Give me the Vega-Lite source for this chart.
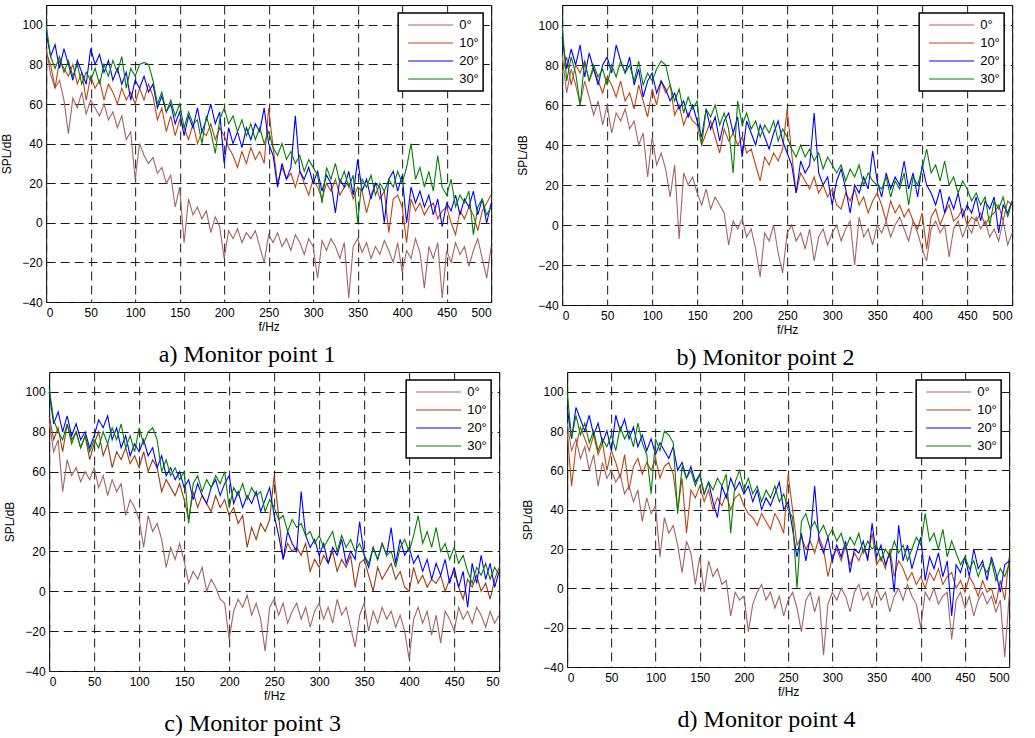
{
"$schema":"https://vega.github.io/schema/vega-lite/v6.json",
"background":"white",
"padding":{"left":0,"top":4,"right":0,"bottom":0},
"datasets":{
"a0":[{"f":0,"v":88},{"f":5,"v":75},{"f":10,"v":68},{"f":15,"v":72},{"f":20,"v":62},{"f":25,"v":45},{"f":30,"v":63},{"f":35,"v":58},{"f":40,"v":66},{"f":45,"v":55},{"f":50,"v":62},{"f":55,"v":58},{"f":60,"v":54},{"f":65,"v":60},{"f":70,"v":52},{"f":75,"v":56},{"f":80,"v":48},{"f":85,"v":54},{"f":90,"v":42},{"f":95,"v":46},{"f":100,"v":22},{"f":105,"v":40},{"f":110,"v":34},{"f":115,"v":30},{"f":120,"v":33},{"f":125,"v":25},{"f":130,"v":28},{"f":135,"v":20},{"f":140,"v":24},{"f":145,"v":8},{"f":150,"v":18},{"f":155,"v":-10},{"f":160,"v":12},{"f":165,"v":4},{"f":170,"v":8},{"f":175,"v":2},{"f":180,"v":6},{"f":185,"v":-5},{"f":190,"v":3},{"f":195,"v":-2},{"f":200,"v":-18},{"f":205,"v":-4},{"f":210,"v":-8},{"f":215,"v":-3},{"f":220,"v":-10},{"f":225,"v":-5},{"f":230,"v":-8},{"f":235,"v":-4},{"f":240,"v":-12},{"f":245,"v":-20},{"f":250,"v":-6},{"f":255,"v":-10},{"f":260,"v":-5},{"f":265,"v":-12},{"f":270,"v":-8},{"f":275,"v":-14},{"f":280,"v":-6},{"f":285,"v":-10},{"f":290,"v":-16},{"f":295,"v":-8},{"f":300,"v":-12},{"f":305,"v":-28},{"f":310,"v":-9},{"f":315,"v":-14},{"f":320,"v":-8},{"f":325,"v":-12},{"f":330,"v":-18},{"f":335,"v":-10},{"f":340,"v":-38},{"f":345,"v":-12},{"f":350,"v":-8},{"f":355,"v":-15},{"f":360,"v":-10},{"f":365,"v":-18},{"f":370,"v":-12},{"f":375,"v":-16},{"f":380,"v":-9},{"f":385,"v":-14},{"f":390,"v":-20},{"f":395,"v":-10},{"f":400,"v":-25},{"f":405,"v":-14},{"f":410,"v":-18},{"f":415,"v":-8},{"f":420,"v":-15},{"f":425,"v":-33},{"f":430,"v":-12},{"f":435,"v":-18},{"f":440,"v":-10},{"f":445,"v":-38},{"f":450,"v":-14},{"f":455,"v":-20},{"f":460,"v":-10},{"f":465,"v":-16},{"f":470,"v":-12},{"f":475,"v":-22},{"f":480,"v":-14},{"f":485,"v":-8},{"f":490,"v":-18},{"f":495,"v":-28},{"f":500,"v":-12}],
"a10":[{"f":0,"v":86},{"f":5,"v":80},{"f":10,"v":68},{"f":15,"v":82},{"f":20,"v":78},{"f":25,"v":74},{"f":30,"v":80},{"f":35,"v":70},{"f":40,"v":76},{"f":45,"v":62},{"f":50,"v":74},{"f":55,"v":68},{"f":60,"v":72},{"f":65,"v":62},{"f":70,"v":70},{"f":75,"v":66},{"f":80,"v":60},{"f":85,"v":68},{"f":90,"v":62},{"f":95,"v":66},{"f":100,"v":60},{"f":105,"v":68},{"f":110,"v":62},{"f":115,"v":70},{"f":120,"v":64},{"f":125,"v":52},{"f":130,"v":58},{"f":135,"v":46},{"f":140,"v":54},{"f":145,"v":44},{"f":150,"v":52},{"f":155,"v":48},{"f":160,"v":42},{"f":165,"v":50},{"f":170,"v":40},{"f":175,"v":46},{"f":180,"v":44},{"f":185,"v":50},{"f":190,"v":42},{"f":195,"v":48},{"f":200,"v":44},{"f":205,"v":38},{"f":210,"v":34},{"f":215,"v":28},{"f":220,"v":36},{"f":225,"v":30},{"f":230,"v":38},{"f":235,"v":32},{"f":240,"v":36},{"f":245,"v":30},{"f":250,"v":58},{"f":255,"v":38},{"f":260,"v":20},{"f":265,"v":28},{"f":270,"v":22},{"f":275,"v":25},{"f":280,"v":18},{"f":285,"v":26},{"f":290,"v":20},{"f":295,"v":14},{"f":300,"v":22},{"f":305,"v":18},{"f":310,"v":12},{"f":315,"v":20},{"f":320,"v":16},{"f":325,"v":22},{"f":330,"v":14},{"f":335,"v":18},{"f":340,"v":20},{"f":345,"v":12},{"f":350,"v":18},{"f":355,"v":16},{"f":360,"v":5},{"f":365,"v":14},{"f":370,"v":20},{"f":375,"v":12},{"f":380,"v":16},{"f":385,"v":-5},{"f":390,"v":12},{"f":395,"v":14},{"f":400,"v":8},{"f":405,"v":-10},{"f":410,"v":12},{"f":415,"v":6},{"f":420,"v":10},{"f":425,"v":4},{"f":430,"v":8},{"f":435,"v":10},{"f":440,"v":2},{"f":445,"v":6},{"f":450,"v":8},{"f":455,"v":0},{"f":460,"v":-6},{"f":465,"v":6},{"f":470,"v":2},{"f":475,"v":8},{"f":480,"v":4},{"f":485,"v":-4},{"f":490,"v":6},{"f":495,"v":10},{"f":500,"v":14}],
"a20":[{"f":0,"v":96},{"f":5,"v":84},{"f":10,"v":90},{"f":15,"v":78},{"f":20,"v":88},{"f":25,"v":80},{"f":30,"v":72},{"f":35,"v":82},{"f":40,"v":76},{"f":45,"v":70},{"f":50,"v":88},{"f":55,"v":80},{"f":60,"v":85},{"f":65,"v":76},{"f":70,"v":82},{"f":75,"v":72},{"f":80,"v":78},{"f":85,"v":70},{"f":90,"v":76},{"f":95,"v":62},{"f":100,"v":72},{"f":105,"v":68},{"f":110,"v":74},{"f":115,"v":66},{"f":120,"v":70},{"f":125,"v":58},{"f":130,"v":64},{"f":135,"v":56},{"f":140,"v":60},{"f":145,"v":50},{"f":150,"v":56},{"f":155,"v":44},{"f":160,"v":54},{"f":165,"v":48},{"f":170,"v":58},{"f":175,"v":46},{"f":180,"v":52},{"f":185,"v":60},{"f":190,"v":50},{"f":195,"v":56},{"f":200,"v":30},{"f":205,"v":48},{"f":210,"v":40},{"f":215,"v":46},{"f":220,"v":38},{"f":225,"v":48},{"f":230,"v":42},{"f":235,"v":50},{"f":240,"v":46},{"f":245,"v":58},{"f":250,"v":40},{"f":255,"v":34},{"f":260,"v":18},{"f":265,"v":30},{"f":270,"v":22},{"f":275,"v":28},{"f":280,"v":54},{"f":285,"v":26},{"f":290,"v":22},{"f":295,"v":28},{"f":300,"v":20},{"f":305,"v":26},{"f":310,"v":16},{"f":315,"v":24},{"f":320,"v":20},{"f":325,"v":5},{"f":330,"v":22},{"f":335,"v":18},{"f":340,"v":26},{"f":345,"v":14},{"f":350,"v":32},{"f":355,"v":16},{"f":360,"v":22},{"f":365,"v":12},{"f":370,"v":20},{"f":375,"v":18},{"f":380,"v":0},{"f":385,"v":22},{"f":390,"v":26},{"f":395,"v":16},{"f":400,"v":24},{"f":405,"v":0},{"f":410,"v":18},{"f":415,"v":10},{"f":420,"v":16},{"f":425,"v":8},{"f":430,"v":14},{"f":435,"v":4},{"f":440,"v":12},{"f":445,"v":-2},{"f":450,"v":10},{"f":455,"v":6},{"f":460,"v":14},{"f":465,"v":4},{"f":470,"v":12},{"f":475,"v":8},{"f":480,"v":16},{"f":485,"v":4},{"f":490,"v":12},{"f":495,"v":0},{"f":500,"v":10}],
"a30":[{"f":0,"v":100},{"f":5,"v":84},{"f":10,"v":78},{"f":15,"v":84},{"f":20,"v":76},{"f":25,"v":82},{"f":30,"v":74},{"f":35,"v":80},{"f":40,"v":70},{"f":45,"v":76},{"f":50,"v":72},{"f":55,"v":78},{"f":60,"v":70},{"f":65,"v":80},{"f":70,"v":74},{"f":75,"v":82},{"f":80,"v":76},{"f":85,"v":84},{"f":90,"v":68},{"f":95,"v":78},{"f":100,"v":74},{"f":105,"v":80},{"f":110,"v":81},{"f":115,"v":80},{"f":120,"v":72},{"f":125,"v":60},{"f":130,"v":66},{"f":135,"v":56},{"f":140,"v":62},{"f":145,"v":54},{"f":150,"v":60},{"f":155,"v":48},{"f":160,"v":56},{"f":165,"v":50},{"f":170,"v":52},{"f":175,"v":40},{"f":180,"v":54},{"f":185,"v":46},{"f":190,"v":35},{"f":195,"v":52},{"f":200,"v":58},{"f":205,"v":50},{"f":210,"v":54},{"f":215,"v":46},{"f":220,"v":52},{"f":225,"v":44},{"f":230,"v":50},{"f":235,"v":42},{"f":240,"v":48},{"f":245,"v":40},{"f":250,"v":46},{"f":255,"v":38},{"f":260,"v":34},{"f":265,"v":40},{"f":270,"v":32},{"f":275,"v":36},{"f":280,"v":30},{"f":285,"v":34},{"f":290,"v":26},{"f":295,"v":32},{"f":300,"v":28},{"f":305,"v":24},{"f":310,"v":10},{"f":315,"v":28},{"f":320,"v":22},{"f":325,"v":30},{"f":330,"v":20},{"f":335,"v":26},{"f":340,"v":18},{"f":345,"v":24},{"f":350,"v":0},{"f":355,"v":22},{"f":360,"v":18},{"f":365,"v":24},{"f":370,"v":14},{"f":375,"v":20},{"f":380,"v":16},{"f":385,"v":22},{"f":390,"v":18},{"f":395,"v":26},{"f":400,"v":20},{"f":405,"v":28},{"f":410,"v":40},{"f":415,"v":22},{"f":420,"v":28},{"f":425,"v":18},{"f":430,"v":26},{"f":435,"v":16},{"f":440,"v":34},{"f":445,"v":18},{"f":450,"v":14},{"f":455,"v":22},{"f":460,"v":8},{"f":465,"v":14},{"f":470,"v":10},{"f":475,"v":16},{"f":480,"v":-6},{"f":485,"v":8},{"f":490,"v":12},{"f":495,"v":4},{"f":500,"v":8}],
"b0":[{"f":0,"v":85},{"f":5,"v":66},{"f":10,"v":78},{"f":15,"v":70},{"f":20,"v":60},{"f":25,"v":72},{"f":30,"v":64},{"f":35,"v":55},{"f":40,"v":62},{"f":45,"v":50},{"f":50,"v":60},{"f":55,"v":46},{"f":60,"v":56},{"f":65,"v":52},{"f":70,"v":58},{"f":75,"v":48},{"f":80,"v":52},{"f":85,"v":40},{"f":90,"v":46},{"f":95,"v":24},{"f":100,"v":44},{"f":105,"v":30},{"f":110,"v":36},{"f":115,"v":28},{"f":120,"v":14},{"f":125,"v":30},{"f":130,"v":-7},{"f":135,"v":26},{"f":140,"v":20},{"f":145,"v":24},{"f":150,"v":16},{"f":155,"v":10},{"f":160,"v":18},{"f":165,"v":8},{"f":170,"v":14},{"f":175,"v":10},{"f":180,"v":6},{"f":185,"v":-10},{"f":190,"v":2},{"f":195,"v":-2},{"f":200,"v":3},{"f":205,"v":-6},{"f":210,"v":-2},{"f":215,"v":-12},{"f":220,"v":-26},{"f":225,"v":-4},{"f":230,"v":-8},{"f":235,"v":0},{"f":240,"v":-14},{"f":245,"v":-24},{"f":250,"v":-4},{"f":255,"v":0},{"f":260,"v":-8},{"f":265,"v":-4},{"f":270,"v":-12},{"f":275,"v":-2},{"f":280,"v":-18},{"f":285,"v":-6},{"f":290,"v":-2},{"f":295,"v":-10},{"f":300,"v":-4},{"f":305,"v":0},{"f":310,"v":-8},{"f":315,"v":-2},{"f":320,"v":2},{"f":325,"v":-20},{"f":330,"v":4},{"f":335,"v":-6},{"f":340,"v":-2},{"f":345,"v":-10},{"f":350,"v":0},{"f":355,"v":-4},{"f":360,"v":2},{"f":365,"v":-6},{"f":370,"v":0},{"f":375,"v":4},{"f":380,"v":-2},{"f":385,"v":-8},{"f":390,"v":2},{"f":395,"v":-4},{"f":400,"v":-12},{"f":405,"v":-18},{"f":410,"v":-2},{"f":415,"v":2},{"f":420,"v":-4},{"f":425,"v":0},{"f":430,"v":-16},{"f":435,"v":-2},{"f":440,"v":2},{"f":445,"v":-6},{"f":450,"v":0},{"f":455,"v":-4},{"f":460,"v":4},{"f":465,"v":-2},{"f":470,"v":2},{"f":475,"v":-6},{"f":480,"v":-2},{"f":485,"v":-8},{"f":490,"v":2},{"f":495,"v":-10},{"f":500,"v":-4}],
"b10":[{"f":0,"v":76},{"f":5,"v":84},{"f":10,"v":70},{"f":15,"v":80},{"f":20,"v":76},{"f":25,"v":82},{"f":30,"v":72},{"f":35,"v":78},{"f":40,"v":72},{"f":45,"v":66},{"f":50,"v":74},{"f":55,"v":70},{"f":60,"v":64},{"f":65,"v":72},{"f":70,"v":62},{"f":75,"v":66},{"f":80,"v":58},{"f":85,"v":70},{"f":90,"v":62},{"f":95,"v":54},{"f":100,"v":68},{"f":105,"v":60},{"f":110,"v":72},{"f":115,"v":66},{"f":120,"v":70},{"f":125,"v":55},{"f":130,"v":60},{"f":135,"v":50},{"f":140,"v":56},{"f":145,"v":52},{"f":150,"v":50},{"f":155,"v":40},{"f":160,"v":46},{"f":165,"v":52},{"f":170,"v":44},{"f":175,"v":36},{"f":180,"v":48},{"f":185,"v":42},{"f":190,"v":46},{"f":195,"v":40},{"f":200,"v":44},{"f":205,"v":36},{"f":210,"v":38},{"f":215,"v":30},{"f":220,"v":22},{"f":225,"v":34},{"f":230,"v":30},{"f":235,"v":36},{"f":240,"v":32},{"f":245,"v":38},{"f":250,"v":58},{"f":255,"v":36},{"f":260,"v":16},{"f":265,"v":26},{"f":270,"v":22},{"f":275,"v":18},{"f":280,"v":24},{"f":285,"v":16},{"f":290,"v":20},{"f":295,"v":14},{"f":300,"v":18},{"f":305,"v":10},{"f":310,"v":8},{"f":315,"v":16},{"f":320,"v":12},{"f":325,"v":18},{"f":330,"v":10},{"f":335,"v":14},{"f":340,"v":6},{"f":345,"v":12},{"f":350,"v":16},{"f":355,"v":10},{"f":360,"v":2},{"f":365,"v":12},{"f":370,"v":6},{"f":375,"v":10},{"f":380,"v":4},{"f":385,"v":8},{"f":390,"v":2},{"f":395,"v":-2},{"f":400,"v":6},{"f":405,"v":-12},{"f":410,"v":4},{"f":415,"v":8},{"f":420,"v":0},{"f":425,"v":6},{"f":430,"v":10},{"f":435,"v":2},{"f":440,"v":4},{"f":445,"v":8},{"f":450,"v":0},{"f":455,"v":4},{"f":460,"v":2},{"f":465,"v":6},{"f":470,"v":0},{"f":475,"v":4},{"f":480,"v":6},{"f":485,"v":10},{"f":490,"v":2},{"f":495,"v":12},{"f":500,"v":10}],
"b20":[{"f":0,"v":94},{"f":5,"v":78},{"f":10,"v":88},{"f":15,"v":80},{"f":20,"v":90},{"f":25,"v":74},{"f":30,"v":86},{"f":35,"v":78},{"f":40,"v":70},{"f":45,"v":80},{"f":50,"v":84},{"f":55,"v":76},{"f":60,"v":90},{"f":65,"v":82},{"f":70,"v":76},{"f":75,"v":84},{"f":80,"v":70},{"f":85,"v":78},{"f":90,"v":64},{"f":95,"v":72},{"f":100,"v":76},{"f":105,"v":66},{"f":110,"v":72},{"f":115,"v":68},{"f":120,"v":62},{"f":125,"v":66},{"f":130,"v":58},{"f":135,"v":62},{"f":140,"v":54},{"f":145,"v":60},{"f":150,"v":52},{"f":155,"v":44},{"f":160,"v":58},{"f":165,"v":48},{"f":170,"v":54},{"f":175,"v":42},{"f":180,"v":52},{"f":185,"v":56},{"f":190,"v":46},{"f":195,"v":54},{"f":200,"v":34},{"f":205,"v":52},{"f":210,"v":46},{"f":215,"v":40},{"f":220,"v":50},{"f":225,"v":44},{"f":230,"v":38},{"f":235,"v":46},{"f":240,"v":52},{"f":245,"v":42},{"f":250,"v":36},{"f":255,"v":30},{"f":260,"v":16},{"f":265,"v":32},{"f":270,"v":26},{"f":275,"v":30},{"f":280,"v":56},{"f":285,"v":26},{"f":290,"v":20},{"f":295,"v":24},{"f":300,"v":10},{"f":305,"v":22},{"f":310,"v":28},{"f":315,"v":18},{"f":320,"v":6},{"f":325,"v":20},{"f":330,"v":16},{"f":335,"v":24},{"f":340,"v":18},{"f":345,"v":37},{"f":350,"v":22},{"f":355,"v":14},{"f":360,"v":26},{"f":365,"v":18},{"f":370,"v":24},{"f":375,"v":20},{"f":380,"v":32},{"f":385,"v":18},{"f":390,"v":26},{"f":395,"v":14},{"f":400,"v":30},{"f":405,"v":20},{"f":410,"v":16},{"f":415,"v":10},{"f":420,"v":18},{"f":425,"v":6},{"f":430,"v":14},{"f":435,"v":8},{"f":440,"v":16},{"f":445,"v":4},{"f":450,"v":10},{"f":455,"v":6},{"f":460,"v":14},{"f":465,"v":2},{"f":470,"v":12},{"f":475,"v":8},{"f":480,"v":14},{"f":485,"v":-4},{"f":490,"v":10},{"f":495,"v":6},{"f":500,"v":12}],
"b30":[{"f":0,"v":100},{"f":5,"v":72},{"f":10,"v":84},{"f":15,"v":76},{"f":20,"v":60},{"f":25,"v":82},{"f":30,"v":72},{"f":35,"v":80},{"f":40,"v":74},{"f":45,"v":78},{"f":50,"v":70},{"f":55,"v":80},{"f":60,"v":74},{"f":65,"v":82},{"f":70,"v":76},{"f":75,"v":80},{"f":80,"v":72},{"f":85,"v":82},{"f":90,"v":70},{"f":95,"v":76},{"f":100,"v":72},{"f":105,"v":78},{"f":110,"v":82},{"f":115,"v":80},{"f":120,"v":70},{"f":125,"v":62},{"f":130,"v":68},{"f":135,"v":56},{"f":140,"v":64},{"f":145,"v":58},{"f":150,"v":62},{"f":155,"v":40},{"f":160,"v":58},{"f":165,"v":54},{"f":170,"v":60},{"f":175,"v":50},{"f":180,"v":56},{"f":185,"v":48},{"f":190,"v":26},{"f":195,"v":62},{"f":200,"v":50},{"f":205,"v":56},{"f":210,"v":48},{"f":215,"v":52},{"f":220,"v":44},{"f":225,"v":50},{"f":230,"v":46},{"f":235,"v":52},{"f":240,"v":42},{"f":245,"v":48},{"f":250,"v":44},{"f":255,"v":38},{"f":260,"v":34},{"f":265,"v":40},{"f":270,"v":34},{"f":275,"v":38},{"f":280,"v":32},{"f":285,"v":36},{"f":290,"v":28},{"f":295,"v":34},{"f":300,"v":30},{"f":305,"v":26},{"f":310,"v":30},{"f":315,"v":22},{"f":320,"v":28},{"f":325,"v":24},{"f":330,"v":30},{"f":335,"v":20},{"f":340,"v":26},{"f":345,"v":22},{"f":350,"v":20},{"f":355,"v":18},{"f":360,"v":24},{"f":365,"v":14},{"f":370,"v":22},{"f":375,"v":18},{"f":380,"v":26},{"f":385,"v":10},{"f":390,"v":24},{"f":395,"v":20},{"f":400,"v":28},{"f":405,"v":38},{"f":410,"v":26},{"f":415,"v":30},{"f":420,"v":22},{"f":425,"v":32},{"f":430,"v":20},{"f":435,"v":24},{"f":440,"v":16},{"f":445,"v":22},{"f":450,"v":18},{"f":455,"v":12},{"f":460,"v":16},{"f":465,"v":10},{"f":470,"v":14},{"f":475,"v":0},{"f":480,"v":12},{"f":485,"v":8},{"f":490,"v":14},{"f":495,"v":4},{"f":500,"v":12}],
"c0":[{"f":0,"v":85},{"f":5,"v":70},{"f":10,"v":76},{"f":15,"v":50},{"f":20,"v":66},{"f":25,"v":58},{"f":30,"v":62},{"f":35,"v":55},{"f":40,"v":60},{"f":45,"v":56},{"f":50,"v":62},{"f":55,"v":52},{"f":60,"v":58},{"f":65,"v":48},{"f":70,"v":56},{"f":75,"v":50},{"f":80,"v":54},{"f":85,"v":38},{"f":90,"v":46},{"f":95,"v":42},{"f":100,"v":36},{"f":105,"v":22},{"f":110,"v":38},{"f":115,"v":30},{"f":120,"v":34},{"f":125,"v":26},{"f":130,"v":12},{"f":135,"v":22},{"f":140,"v":16},{"f":145,"v":24},{"f":150,"v":15},{"f":155,"v":4},{"f":160,"v":10},{"f":165,"v":6},{"f":170,"v":12},{"f":175,"v":0},{"f":180,"v":6},{"f":185,"v":2},{"f":190,"v":-4},{"f":195,"v":-6},{"f":200,"v":-24},{"f":205,"v":-10},{"f":210,"v":-4},{"f":215,"v":-8},{"f":220,"v":-2},{"f":225,"v":-12},{"f":230,"v":-6},{"f":235,"v":-14},{"f":240,"v":-30},{"f":245,"v":-8},{"f":250,"v":-4},{"f":255,"v":-12},{"f":260,"v":-6},{"f":265,"v":-16},{"f":270,"v":-10},{"f":275,"v":-6},{"f":280,"v":-14},{"f":285,"v":-8},{"f":290,"v":-18},{"f":295,"v":-10},{"f":300,"v":-6},{"f":305,"v":-14},{"f":310,"v":-8},{"f":315,"v":-16},{"f":320,"v":-4},{"f":325,"v":-12},{"f":330,"v":-8},{"f":335,"v":-18},{"f":340,"v":-28},{"f":345,"v":-12},{"f":350,"v":-6},{"f":355,"v":-20},{"f":360,"v":-10},{"f":365,"v":-16},{"f":370,"v":-8},{"f":375,"v":-14},{"f":380,"v":-10},{"f":385,"v":-18},{"f":390,"v":-12},{"f":395,"v":-20},{"f":400,"v":-34},{"f":405,"v":-14},{"f":410,"v":-8},{"f":415,"v":-16},{"f":420,"v":-10},{"f":425,"v":-22},{"f":430,"v":-12},{"f":435,"v":-26},{"f":440,"v":-10},{"f":445,"v":-14},{"f":450,"v":-20},{"f":455,"v":-8},{"f":460,"v":-14},{"f":465,"v":-10},{"f":470,"v":-16},{"f":475,"v":-8},{"f":480,"v":-12},{"f":485,"v":-18},{"f":490,"v":-10},{"f":495,"v":-16},{"f":500,"v":-12}],
"c10":[{"f":0,"v":88},{"f":5,"v":76},{"f":10,"v":82},{"f":15,"v":70},{"f":20,"v":84},{"f":25,"v":76},{"f":30,"v":80},{"f":35,"v":72},{"f":40,"v":78},{"f":45,"v":66},{"f":50,"v":74},{"f":55,"v":80},{"f":60,"v":68},{"f":65,"v":74},{"f":70,"v":62},{"f":75,"v":70},{"f":80,"v":66},{"f":85,"v":72},{"f":90,"v":64},{"f":95,"v":68},{"f":100,"v":62},{"f":105,"v":70},{"f":110,"v":60},{"f":115,"v":66},{"f":120,"v":62},{"f":125,"v":50},{"f":130,"v":56},{"f":135,"v":52},{"f":140,"v":48},{"f":145,"v":54},{"f":150,"v":46},{"f":155,"v":36},{"f":160,"v":50},{"f":165,"v":42},{"f":170,"v":48},{"f":175,"v":44},{"f":180,"v":40},{"f":185,"v":48},{"f":190,"v":42},{"f":195,"v":46},{"f":200,"v":38},{"f":205,"v":42},{"f":210,"v":34},{"f":215,"v":38},{"f":220,"v":22},{"f":225,"v":32},{"f":230,"v":26},{"f":235,"v":34},{"f":240,"v":30},{"f":245,"v":36},{"f":250,"v":58},{"f":255,"v":38},{"f":260,"v":16},{"f":265,"v":24},{"f":270,"v":20},{"f":275,"v":22},{"f":280,"v":18},{"f":285,"v":24},{"f":290,"v":10},{"f":295,"v":16},{"f":300,"v":12},{"f":305,"v":18},{"f":310,"v":14},{"f":315,"v":20},{"f":320,"v":10},{"f":325,"v":16},{"f":330,"v":12},{"f":335,"v":18},{"f":340,"v":2},{"f":345,"v":14},{"f":350,"v":16},{"f":355,"v":8},{"f":360,"v":0},{"f":365,"v":12},{"f":370,"v":6},{"f":375,"v":10},{"f":380,"v":14},{"f":385,"v":6},{"f":390,"v":10},{"f":395,"v":2},{"f":400,"v":0},{"f":405,"v":12},{"f":410,"v":4},{"f":415,"v":8},{"f":420,"v":2},{"f":425,"v":6},{"f":430,"v":4},{"f":435,"v":8},{"f":440,"v":0},{"f":445,"v":6},{"f":450,"v":10},{"f":455,"v":2},{"f":460,"v":-4},{"f":465,"v":6},{"f":470,"v":2},{"f":475,"v":8},{"f":480,"v":0},{"f":485,"v":4},{"f":490,"v":-4},{"f":495,"v":6},{"f":500,"v":12}],
"c20":[{"f":0,"v":100},{"f":5,"v":84},{"f":10,"v":90},{"f":15,"v":80},{"f":20,"v":88},{"f":25,"v":78},{"f":30,"v":84},{"f":35,"v":76},{"f":40,"v":80},{"f":45,"v":72},{"f":50,"v":78},{"f":55,"v":86},{"f":60,"v":82},{"f":65,"v":88},{"f":70,"v":76},{"f":75,"v":82},{"f":80,"v":72},{"f":85,"v":78},{"f":90,"v":68},{"f":95,"v":74},{"f":100,"v":70},{"f":105,"v":76},{"f":110,"v":68},{"f":115,"v":72},{"f":120,"v":62},{"f":125,"v":68},{"f":130,"v":58},{"f":135,"v":62},{"f":140,"v":56},{"f":145,"v":60},{"f":150,"v":52},{"f":155,"v":56},{"f":160,"v":46},{"f":165,"v":54},{"f":170,"v":48},{"f":175,"v":44},{"f":180,"v":52},{"f":185,"v":56},{"f":190,"v":48},{"f":195,"v":54},{"f":200,"v":58},{"f":205,"v":44},{"f":210,"v":50},{"f":215,"v":42},{"f":220,"v":48},{"f":225,"v":44},{"f":230,"v":50},{"f":235,"v":40},{"f":240,"v":46},{"f":245,"v":52},{"f":250,"v":38},{"f":255,"v":28},{"f":260,"v":16},{"f":265,"v":30},{"f":270,"v":24},{"f":275,"v":20},{"f":280,"v":50},{"f":285,"v":28},{"f":290,"v":22},{"f":295,"v":26},{"f":300,"v":18},{"f":305,"v":24},{"f":310,"v":14},{"f":315,"v":22},{"f":320,"v":18},{"f":325,"v":26},{"f":330,"v":14},{"f":335,"v":20},{"f":340,"v":16},{"f":345,"v":35},{"f":350,"v":18},{"f":355,"v":12},{"f":360,"v":22},{"f":365,"v":16},{"f":370,"v":24},{"f":375,"v":18},{"f":380,"v":32},{"f":385,"v":14},{"f":390,"v":26},{"f":395,"v":18},{"f":400,"v":22},{"f":405,"v":14},{"f":410,"v":18},{"f":415,"v":10},{"f":420,"v":16},{"f":425,"v":6},{"f":430,"v":14},{"f":435,"v":8},{"f":440,"v":16},{"f":445,"v":4},{"f":450,"v":12},{"f":455,"v":2},{"f":460,"v":10},{"f":465,"v":-8},{"f":470,"v":14},{"f":475,"v":4},{"f":480,"v":18},{"f":485,"v":6},{"f":490,"v":14},{"f":495,"v":2},{"f":500,"v":10}],
"c30":[{"f":0,"v":102},{"f":5,"v":86},{"f":10,"v":80},{"f":15,"v":76},{"f":20,"v":84},{"f":25,"v":74},{"f":30,"v":80},{"f":35,"v":72},{"f":40,"v":78},{"f":45,"v":70},{"f":50,"v":76},{"f":55,"v":72},{"f":60,"v":80},{"f":65,"v":74},{"f":70,"v":82},{"f":75,"v":76},{"f":80,"v":84},{"f":85,"v":72},{"f":90,"v":78},{"f":95,"v":70},{"f":100,"v":82},{"f":105,"v":74},{"f":110,"v":80},{"f":115,"v":82},{"f":120,"v":76},{"f":125,"v":60},{"f":130,"v":66},{"f":135,"v":58},{"f":140,"v":62},{"f":145,"v":56},{"f":150,"v":60},{"f":155,"v":34},{"f":160,"v":54},{"f":165,"v":58},{"f":170,"v":50},{"f":175,"v":56},{"f":180,"v":52},{"f":185,"v":58},{"f":190,"v":54},{"f":195,"v":60},{"f":200,"v":42},{"f":205,"v":52},{"f":210,"v":48},{"f":215,"v":54},{"f":220,"v":46},{"f":225,"v":52},{"f":230,"v":48},{"f":235,"v":50},{"f":240,"v":40},{"f":245,"v":46},{"f":250,"v":42},{"f":255,"v":36},{"f":260,"v":38},{"f":265,"v":30},{"f":270,"v":36},{"f":275,"v":32},{"f":280,"v":34},{"f":285,"v":28},{"f":290,"v":30},{"f":295,"v":24},{"f":300,"v":28},{"f":305,"v":22},{"f":310,"v":26},{"f":315,"v":30},{"f":320,"v":20},{"f":325,"v":28},{"f":330,"v":22},{"f":335,"v":26},{"f":340,"v":20},{"f":345,"v":24},{"f":350,"v":18},{"f":355,"v":14},{"f":360,"v":22},{"f":365,"v":16},{"f":370,"v":24},{"f":375,"v":18},{"f":380,"v":20},{"f":385,"v":12},{"f":390,"v":22},{"f":395,"v":26},{"f":400,"v":20},{"f":405,"v":28},{"f":410,"v":38},{"f":415,"v":24},{"f":420,"v":30},{"f":425,"v":22},{"f":430,"v":32},{"f":435,"v":20},{"f":440,"v":24},{"f":445,"v":16},{"f":450,"v":22},{"f":455,"v":14},{"f":460,"v":18},{"f":465,"v":10},{"f":470,"v":4},{"f":475,"v":12},{"f":480,"v":8},{"f":485,"v":14},{"f":490,"v":6},{"f":495,"v":12},{"f":500,"v":8}],
"d0":[{"f":0,"v":84},{"f":5,"v":70},{"f":10,"v":76},{"f":15,"v":66},{"f":20,"v":72},{"f":25,"v":60},{"f":30,"v":68},{"f":35,"v":52},{"f":40,"v":64},{"f":45,"v":56},{"f":50,"v":60},{"f":55,"v":54},{"f":60,"v":58},{"f":65,"v":48},{"f":70,"v":52},{"f":75,"v":44},{"f":80,"v":50},{"f":85,"v":34},{"f":90,"v":46},{"f":95,"v":38},{"f":100,"v":42},{"f":105,"v":16},{"f":110,"v":36},{"f":115,"v":28},{"f":120,"v":32},{"f":125,"v":22},{"f":130,"v":8},{"f":135,"v":24},{"f":140,"v":18},{"f":145,"v":2},{"f":150,"v":16},{"f":155,"v":-2},{"f":160,"v":14},{"f":165,"v":6},{"f":170,"v":10},{"f":175,"v":2},{"f":180,"v":4},{"f":185,"v":-14},{"f":190,"v":-2},{"f":195,"v":-6},{"f":200,"v":-4},{"f":205,"v":-22},{"f":210,"v":-8},{"f":215,"v":-2},{"f":220,"v":2},{"f":225,"v":-6},{"f":230,"v":-2},{"f":235,"v":-10},{"f":240,"v":-4},{"f":245,"v":-14},{"f":250,"v":-6},{"f":255,"v":-2},{"f":260,"v":-10},{"f":265,"v":-22},{"f":270,"v":-6},{"f":275,"v":-2},{"f":280,"v":-12},{"f":285,"v":-4},{"f":290,"v":-34},{"f":295,"v":-8},{"f":300,"v":-2},{"f":305,"v":-6},{"f":310,"v":0},{"f":315,"v":-4},{"f":320,"v":-12},{"f":325,"v":-2},{"f":330,"v":2},{"f":335,"v":-6},{"f":340,"v":-2},{"f":345,"v":-10},{"f":350,"v":0},{"f":355,"v":-6},{"f":360,"v":-2},{"f":365,"v":-12},{"f":370,"v":-4},{"f":375,"v":0},{"f":380,"v":-6},{"f":385,"v":2},{"f":390,"v":-4},{"f":395,"v":-8},{"f":400,"v":-20},{"f":405,"v":-2},{"f":410,"v":-6},{"f":415,"v":0},{"f":420,"v":-8},{"f":425,"v":-4},{"f":430,"v":-2},{"f":435,"v":-26},{"f":440,"v":-6},{"f":445,"v":-2},{"f":450,"v":-10},{"f":455,"v":-4},{"f":460,"v":-14},{"f":465,"v":-6},{"f":470,"v":-2},{"f":475,"v":-8},{"f":480,"v":-4},{"f":485,"v":-12},{"f":490,"v":-6},{"f":495,"v":-35},{"f":500,"v":-4}],
"d10":[{"f":0,"v":80},{"f":5,"v":52},{"f":10,"v":72},{"f":15,"v":82},{"f":20,"v":76},{"f":25,"v":70},{"f":30,"v":78},{"f":35,"v":68},{"f":40,"v":74},{"f":45,"v":60},{"f":50,"v":70},{"f":55,"v":64},{"f":60,"v":56},{"f":65,"v":68},{"f":70,"v":50},{"f":75,"v":62},{"f":80,"v":66},{"f":85,"v":58},{"f":90,"v":64},{"f":95,"v":60},{"f":100,"v":66},{"f":105,"v":56},{"f":110,"v":62},{"f":115,"v":64},{"f":120,"v":58},{"f":125,"v":40},{"f":130,"v":56},{"f":135,"v":28},{"f":140,"v":50},{"f":145,"v":46},{"f":150,"v":52},{"f":155,"v":44},{"f":160,"v":50},{"f":165,"v":40},{"f":170,"v":46},{"f":175,"v":42},{"f":180,"v":48},{"f":185,"v":40},{"f":190,"v":46},{"f":195,"v":48},{"f":200,"v":42},{"f":205,"v":38},{"f":210,"v":36},{"f":215,"v":32},{"f":220,"v":38},{"f":225,"v":34},{"f":230,"v":30},{"f":235,"v":38},{"f":240,"v":34},{"f":245,"v":28},{"f":250,"v":58},{"f":255,"v":40},{"f":260,"v":22},{"f":265,"v":26},{"f":270,"v":20},{"f":275,"v":24},{"f":280,"v":18},{"f":285,"v":26},{"f":290,"v":20},{"f":295,"v":6},{"f":300,"v":16},{"f":305,"v":20},{"f":310,"v":14},{"f":315,"v":22},{"f":320,"v":12},{"f":325,"v":18},{"f":330,"v":14},{"f":335,"v":20},{"f":340,"v":16},{"f":345,"v":28},{"f":350,"v":12},{"f":355,"v":16},{"f":360,"v":10},{"f":365,"v":20},{"f":370,"v":6},{"f":375,"v":14},{"f":380,"v":10},{"f":385,"v":4},{"f":390,"v":8},{"f":395,"v":2},{"f":400,"v":6},{"f":405,"v":0},{"f":410,"v":8},{"f":415,"v":4},{"f":420,"v":10},{"f":425,"v":2},{"f":430,"v":6},{"f":435,"v":8},{"f":440,"v":0},{"f":445,"v":4},{"f":450,"v":-2},{"f":455,"v":6},{"f":460,"v":2},{"f":465,"v":-4},{"f":470,"v":4},{"f":475,"v":-2},{"f":480,"v":0},{"f":485,"v":-8},{"f":490,"v":4},{"f":495,"v":-6},{"f":500,"v":16}],
"d20":[{"f":0,"v":92},{"f":5,"v":76},{"f":10,"v":92},{"f":15,"v":86},{"f":20,"v":80},{"f":25,"v":88},{"f":30,"v":78},{"f":35,"v":84},{"f":40,"v":74},{"f":45,"v":80},{"f":50,"v":70},{"f":55,"v":88},{"f":60,"v":80},{"f":65,"v":86},{"f":70,"v":76},{"f":75,"v":82},{"f":80,"v":72},{"f":85,"v":78},{"f":90,"v":70},{"f":95,"v":76},{"f":100,"v":68},{"f":105,"v":74},{"f":110,"v":70},{"f":115,"v":66},{"f":120,"v":72},{"f":125,"v":60},{"f":130,"v":64},{"f":135,"v":56},{"f":140,"v":62},{"f":145,"v":54},{"f":150,"v":58},{"f":155,"v":48},{"f":160,"v":54},{"f":165,"v":44},{"f":170,"v":36},{"f":175,"v":52},{"f":180,"v":46},{"f":185,"v":56},{"f":190,"v":50},{"f":195,"v":54},{"f":200,"v":48},{"f":205,"v":52},{"f":210,"v":44},{"f":215,"v":50},{"f":220,"v":40},{"f":225,"v":46},{"f":230,"v":42},{"f":235,"v":48},{"f":240,"v":54},{"f":245,"v":40},{"f":250,"v":44},{"f":255,"v":30},{"f":260,"v":16},{"f":265,"v":28},{"f":270,"v":14},{"f":275,"v":26},{"f":280,"v":52},{"f":285,"v":24},{"f":290,"v":18},{"f":295,"v":26},{"f":300,"v":14},{"f":305,"v":22},{"f":310,"v":16},{"f":315,"v":24},{"f":320,"v":8},{"f":325,"v":20},{"f":330,"v":18},{"f":335,"v":24},{"f":340,"v":14},{"f":345,"v":33},{"f":350,"v":16},{"f":355,"v":22},{"f":360,"v":12},{"f":365,"v":18},{"f":370,"v":-2},{"f":375,"v":32},{"f":380,"v":14},{"f":385,"v":22},{"f":390,"v":10},{"f":395,"v":18},{"f":400,"v":26},{"f":405,"v":4},{"f":410,"v":16},{"f":415,"v":10},{"f":420,"v":18},{"f":425,"v":6},{"f":430,"v":14},{"f":435,"v":-14},{"f":440,"v":12},{"f":445,"v":8},{"f":450,"v":16},{"f":455,"v":6},{"f":460,"v":20},{"f":465,"v":10},{"f":470,"v":14},{"f":475,"v":4},{"f":480,"v":16},{"f":485,"v":8},{"f":490,"v":-2},{"f":495,"v":12},{"f":500,"v":14}],
"d30":[{"f":0,"v":100},{"f":5,"v":76},{"f":10,"v":88},{"f":15,"v":78},{"f":20,"v":84},{"f":25,"v":74},{"f":30,"v":80},{"f":35,"v":70},{"f":40,"v":76},{"f":45,"v":72},{"f":50,"v":78},{"f":55,"v":70},{"f":60,"v":82},{"f":65,"v":76},{"f":70,"v":80},{"f":75,"v":72},{"f":80,"v":84},{"f":85,"v":74},{"f":90,"v":68},{"f":95,"v":48},{"f":100,"v":76},{"f":105,"v":70},{"f":110,"v":80},{"f":115,"v":78},{"f":120,"v":74},{"f":125,"v":38},{"f":130,"v":62},{"f":135,"v":56},{"f":140,"v":60},{"f":145,"v":52},{"f":150,"v":58},{"f":155,"v":48},{"f":160,"v":54},{"f":165,"v":50},{"f":170,"v":56},{"f":175,"v":52},{"f":180,"v":58},{"f":185,"v":28},{"f":190,"v":54},{"f":195,"v":60},{"f":200,"v":50},{"f":205,"v":56},{"f":210,"v":48},{"f":215,"v":52},{"f":220,"v":44},{"f":225,"v":50},{"f":230,"v":46},{"f":235,"v":52},{"f":240,"v":44},{"f":245,"v":48},{"f":250,"v":40},{"f":255,"v":36},{"f":260,"v":0},{"f":265,"v":34},{"f":270,"v":38},{"f":275,"v":30},{"f":280,"v":34},{"f":285,"v":28},{"f":290,"v":32},{"f":295,"v":26},{"f":300,"v":30},{"f":305,"v":24},{"f":310,"v":28},{"f":315,"v":20},{"f":320,"v":26},{"f":325,"v":22},{"f":330,"v":28},{"f":335,"v":18},{"f":340,"v":24},{"f":345,"v":20},{"f":350,"v":22},{"f":355,"v":14},{"f":360,"v":20},{"f":365,"v":16},{"f":370,"v":24},{"f":375,"v":18},{"f":380,"v":22},{"f":385,"v":14},{"f":390,"v":20},{"f":395,"v":26},{"f":400,"v":22},{"f":405,"v":38},{"f":410,"v":24},{"f":415,"v":28},{"f":420,"v":20},{"f":425,"v":30},{"f":430,"v":16},{"f":435,"v":24},{"f":440,"v":18},{"f":445,"v":12},{"f":450,"v":16},{"f":455,"v":10},{"f":460,"v":14},{"f":465,"v":6},{"f":470,"v":12},{"f":475,"v":8},{"f":480,"v":14},{"f":485,"v":4},{"f":490,"v":10},{"f":495,"v":6},{"f":500,"v":12}]
},
"vconcat":[
{"hconcat":[
{"width":445,"height":297,"title":{"text":"a) Monitor point 1"},
"encoding":{"x":{"field":"f","type":"quantitative","scale":{"domain":[0,500],"nice":false},"axis":{"values":[0,50,100,150,200,250,300,350,400,450,500],"title":"f/Hz"}},"y":{"field":"v","type":"quantitative","scale":{"domain":[-40,110],"nice":false},"axis":{"values":[-40,-20,0,20,40,60,80,100],"title":"SPL/dB"}}},
"layer":[
{"data":{"name":"a0"},"mark":"line","encoding":{"color":{"datum":"0°","type":"nominal","title":null,"scale":{"domain":["0°","10°","20°","30°"],"range":["#A46464","#BC4614","#0000FF","#008000"]}}}},
{"data":{"name":"a10"},"mark":"line","encoding":{"color":{"datum":"10°","type":"nominal","title":null}}},
{"data":{"name":"a20"},"mark":"line","encoding":{"color":{"datum":"20°","type":"nominal","title":null}}},
{"data":{"name":"a30"},"mark":"line","encoding":{"color":{"datum":"30°","type":"nominal","title":null}}}
]},
{"width":450,"height":300,"title":{"text":"b) Monitor point 2"},
"encoding":{"x":{"field":"f","type":"quantitative","scale":{"domain":[0,500],"nice":false},"axis":{"values":[0,50,100,150,200,250,300,350,400,450,500],"title":"f/Hz"}},"y":{"field":"v","type":"quantitative","scale":{"domain":[-40,110],"nice":false},"axis":{"values":[-40,-20,0,20,40,60,80,100],"title":"SPL/dB"}}},
"layer":[
{"data":{"name":"b0"},"mark":"line","encoding":{"color":{"datum":"0°","type":"nominal","title":null,"scale":{"domain":["0°","10°","20°","30°"],"range":["#A46464","#BC4614","#0000FF","#008000"]}}}},
{"data":{"name":"b10"},"mark":"line","encoding":{"color":{"datum":"10°","type":"nominal","title":null}}},
{"data":{"name":"b20"},"mark":"line","encoding":{"color":{"datum":"20°","type":"nominal","title":null}}},
{"data":{"name":"b30"},"mark":"line","encoding":{"color":{"datum":"30°","type":"nominal","title":null}}}
]}
],"spacing":22,"resolve":{"scale":{"color":"independent"},"legend":{"color":"independent"}}},
{"hconcat":[
{"width":450,"height":299,"title":{"text":"c) Monitor point 3"},
"encoding":{"x":{"field":"f","type":"quantitative","scale":{"domain":[0,500],"nice":false},"axis":{"values":[0,50,100,150,200,250,300,350,400,450,500],"title":"f/Hz","labelExpr":"datum.value==500?'50':datum.label"}},"y":{"field":"v","type":"quantitative","scale":{"domain":[-40,110],"nice":false},"axis":{"values":[-40,-20,0,20,40,60,80,100],"title":"SPL/dB"}}},
"layer":[
{"data":{"name":"c0"},"mark":"line","encoding":{"color":{"datum":"0°","type":"nominal","title":null,"scale":{"domain":["0°","10°","20°","30°"],"range":["#A46464","#9A3C10","#0000FF","#008000"]}}}},
{"data":{"name":"c10"},"mark":"line","encoding":{"color":{"datum":"10°","type":"nominal","title":null}}},
{"data":{"name":"c20"},"mark":"line","encoding":{"color":{"datum":"20°","type":"nominal","title":null}}},
{"data":{"name":"c30"},"mark":"line","encoding":{"color":{"datum":"30°","type":"nominal","title":null}}}
]},
{"width":442,"height":295,"title":{"text":"d) Monitor point 4"},
"encoding":{"x":{"field":"f","type":"quantitative","scale":{"domain":[0,500],"nice":false},"axis":{"values":[0,50,100,150,200,250,300,350,400,450,500],"title":"f/Hz"}},"y":{"field":"v","type":"quantitative","scale":{"domain":[-40,110],"nice":false},"axis":{"values":[-40,-20,0,20,40,60,80,100],"title":"SPL/dB"}}},
"layer":[
{"data":{"name":"d0"},"mark":"line","encoding":{"color":{"datum":"0°","type":"nominal","title":null,"scale":{"domain":["0°","10°","20°","30°"],"range":["#A46464","#BC4614","#0000FF","#008000"]}}}},
{"data":{"name":"d10"},"mark":"line","encoding":{"color":{"datum":"10°","type":"nominal","title":null}}},
{"data":{"name":"d20"},"mark":"line","encoding":{"color":{"datum":"20°","type":"nominal","title":null}}},
{"data":{"name":"d30"},"mark":"line","encoding":{"color":{"datum":"30°","type":"nominal","title":null}}}
]}
],"spacing":19,"resolve":{"scale":{"color":"independent"},"legend":{"color":"independent"}}}
],
"spacing":0,
"center":true,
"resolve":{"scale":{"color":"independent"},"legend":{"color":"independent"}},
"config":{
"view":{"stroke":"black","strokeWidth":1},
"line":{"strokeWidth":1.1},
"axis":{"grid":true,"gridColor":"#1a1a1a","gridDash":[9,5],"gridOpacity":1,"gridWidth":1,"domain":false,"ticks":false,"labelFont":"Liberation Sans","labelFontSize":12,"labelColor":"black","labelPadding":4,"titleFont":"Liberation Sans","titleFontSize":12,"titleFontWeight":"normal","titleColor":"black"},
"axisX":{"titlePadding":3,"labelPadding":5},
"axisY":{"titlePadding":8},
"legend":{"orient":"top-right","offset":8,"fillColor":"white","strokeColor":"black","strokeWidth":1.5,"padding":4,"symbolType":"stroke","symbolSize":2025,"symbolStrokeWidth":1.5,"symbolOffset":5,"labelOffset":5,"clipHeight":16,"rowPadding":2,"labelFont":"Liberation Sans","labelFontSize":13,"labelColor":"black"},
"title":{"orient":"bottom","frame":"bounds","anchor":"middle","font":"Liberation Serif","fontSize":24,"fontWeight":"normal","color":"black","offset":11}
}
}
